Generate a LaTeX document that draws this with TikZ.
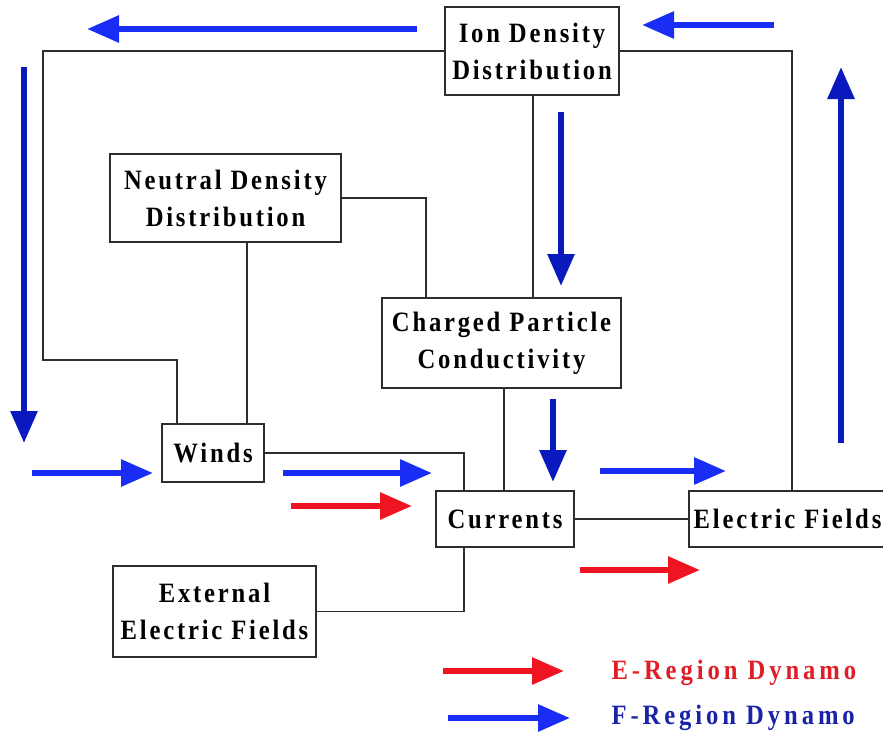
\documentclass[tikz,border=0pt]{standalone}
\usepackage{fontspec}
\setmainfont{Liberation Serif}
\newfontfamily\labfont{Liberation Serif}[LetterSpace=10,FakeStretch=0.88]
\newfontfamily\legfont{Liberation Serif}[LetterSpace=14,FakeStretch=0.88]
\usetikzlibrary{arrows.meta,calc}
\definecolor{bbright}{RGB}{25,45,245}
\definecolor{bdark}{RGB}{10,25,190}
\definecolor{rarrow}{RGB}{240,20,35}
\definecolor{edge}{RGB}{45,45,45}
\definecolor{legred}{RGB}{225,30,40}
\definecolor{legblue}{RGB}{25,35,165}
\tikzset{
  box/.style={draw=edge,line width=1.8pt,fill=white,align=center,inner sep=0pt,
    font=\labfont\bfseries\fontsize{28}{37}\selectfont},
  conn/.style={draw=edge,line width=1.8pt},
  bigarrow/.style={line width=6pt,-{Triangle[length=32pt,width=26pt]}},
  legtext/.style={font=\legfont\bfseries\fontsize{28}{30}\selectfont,anchor=west}
}
\begin{document}
\begin{tikzpicture}[x=1pt,y=-1pt]
\useasboundingbox (0,0) rectangle (883,736);
% boxes
\node[box,minimum width=174pt,minimum height=88pt] (ion) at (532,51) {Ion Density\\Distribution};
\node[box,minimum width=231pt,minimum height=88pt] (neutral) at (225.5,198) {Neutral Density\\Distribution};
\node[box,minimum width=239pt,minimum height=90pt] (charged) at (501.5,343) {Charged Particle\\Conductivity};
\node[box,minimum width=102pt,minimum height=58pt] (winds) at (213,453) {Winds};
\node[box,minimum width=138pt,minimum height=56pt] (currents) at (505,519) {Currents};
\node[box,minimum width=197pt,minimum height=56pt] (elec) at (787.5,519) {Electric Fields};
\node[box,minimum width=203pt,minimum height=91pt] (ext) at (214.5,611.5) {External\\Electric Fields};
% helper coordinates
\coordinate (w1) at (177,0);
\coordinate (e1) at (792,0);
\coordinate (n1) at (426,0);
\coordinate (n2) at (247,0);
\coordinate (c2) at (464,0);
\coordinate (c3) at (504,0);
\coordinate (i1) at (533,0);
% connectors
\draw[conn] (ion.west) -| (43,360) -| (winds.north -| w1);
\draw[conn] (ion.east) -| (elec.north -| e1);
\draw[conn] (ion.south -| i1) -- (charged.north -| i1);
\draw[conn] (neutral.east) -| (charged.north -| n1);
\draw[conn] (neutral.south -| n2) -- (winds.north -| n2);
\draw[conn] (winds.east) -| (currents.north -| c2);
\draw[conn] (charged.south -| c3) -- (currents.north -| c3);
\draw[conn] (currents.east) -- (elec.west);
\draw[conn] (ext.east) -| (currents.south -| c2);
% blue arrows
\draw[bigarrow,bbright] (417,29) -- (87,29);
\draw[bigarrow,bbright] (774,25) -- (642,25);
\draw[bigarrow,bdark] (24,67) -- (24,443);
\draw[bigarrow,bdark] (561,112) -- (561,286);
\draw[bigarrow,bdark] (841,443) -- (841,67);
\draw[bigarrow,bdark] (553,399) -- (553,482);
\draw[bigarrow,bbright] (32,473) -- (153,473);
\draw[bigarrow,bbright] (283,473) -- (432,473);
\draw[bigarrow,bbright] (600,471) -- (726,471);
% red arrows
\draw[bigarrow,rarrow] (291,506) -- (412,506);
\draw[bigarrow,rarrow] (580,570) -- (700,570);
% legend
\draw[bigarrow,rarrow] (443,671) -- (564,671);
\draw[bigarrow,bbright] (448,718) -- (570,718);
\node[legtext,text=legred] (le) at (608,673) {E-Region Dynamo};
\node[legtext,text=legblue] (lf) at (608,718) {F-Region Dynamo};
\end{tikzpicture}
\end{document}
